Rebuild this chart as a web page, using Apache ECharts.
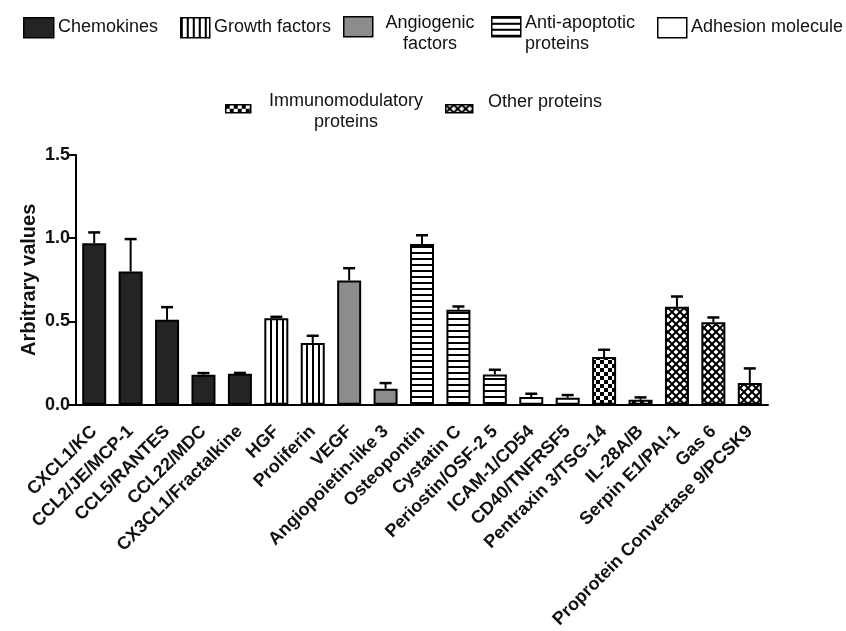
<!DOCTYPE html>
<html>
<head>
<meta charset="utf-8">
<script src="https://cdn.jsdelivr.net/npm/echarts@6/dist/echarts.min.js"></script>
<style>html,body{margin:0;padding:0;background:#fff;}#c{width:846px;height:631px;}</style>
</head>
<body>
<div id="c"></div>
<script>
const categories = ['CXCL1/KC','CCL2/JE/MCP-1','CCL5/RANTES','CCL22/MDC','CX3CL1/Fractalkine','HGF','Proliferin','VEGF','Angiopoietin-like 3','Osteopontin','Cystatin C','Periostin/OSF-2 5','ICAM-1/CD54','CD40/TNFRSF5','Pentraxin 3/TSG-14','IL-28A/B','Serpin E1/PAI-1','Gas 6','Proprotein Convertase 9/PCSK9'];
const values = [0.97,0.80,0.51,0.18,0.186,0.52,0.37,0.746,0.096,0.966,0.57,0.182,0.046,0.042,0.286,0.03,0.588,0.496,0.13];
const errors = [0.065,0.195,0.076,0.01,0.005,0.008,0.044,0.074,0.034,0.052,0.02,0.028,0.02,0.016,0.044,0.014,0.062,0.028,0.088];
const groupNames = ['Chemokines','Growth factors','Angiogenic factors','Anti-apoptotic proteins','Adhesion molecule','Immunomodulatory proteins','Other proteins'];
const legendLabels = ['Chemokines','Growth factors','Angiogenic\nfactors','Anti-apoptotic\nproteins','Adhesion molecule','Immunomodulatory\nproteins','Other proteins'];
const groupOf = [0,0,0,0,0,1,1,2,2,3,3,3,4,4,5,5,6,6,6];
const yTicks = [0,0.5,1.0,1.5];

function pat(type){
  const c = document.createElement('canvas');
  const ctx = c.getContext('2d');
  if(type==='solid'||type==='gray'||type==='white'){ return type==='solid'?'#242424':type==='gray'?'#8c8c8c':'#ffffff'; }
  if(type==='vert'){ c.width=6;c.height=6;ctx.fillStyle='#fff';ctx.fillRect(0,0,6,6);ctx.fillStyle='#000';ctx.fillRect(0,0,2,6); }
  if(type==='horiz'){ c.width=6;c.height=6;ctx.fillStyle='#fff';ctx.fillRect(0,0,6,6);ctx.fillStyle='#000';ctx.fillRect(0,0,6,2); }
  if(type==='check'){ c.width=8;c.height=8;ctx.fillStyle='#fff';ctx.fillRect(0,0,8,8);ctx.fillStyle='#000';ctx.fillRect(0,0,4,4);ctx.fillRect(4,4,4,4); }
  if(type==='cross'){ c.width=8;c.height=8;ctx.fillStyle='#fff';ctx.fillRect(0,0,8,8);ctx.strokeStyle='#000';ctx.lineWidth=2;
    ctx.beginPath();ctx.moveTo(-1,-1);ctx.lineTo(9,9);ctx.moveTo(9,-1);ctx.lineTo(-1,9);ctx.stroke(); }
  return {image:c, repeat:'repeat'};
}
const fills = [pat('solid'),pat('vert'),pat('gray'),pat('horiz'),pat('white'),pat('check'),pat('cross')];

const FONT = "'Liberation Sans', Arial, Helvetica, sans-serif";

const barSeries = groupNames.map((g,gi)=>({
  name: g,
  type: 'bar',
  barWidth: 24,
  barGap: '-100%',
  itemStyle: {color: fills[gi], borderColor:'#000', borderWidth:2},
  data: values.map((v,i)=> groupOf[i]===gi ? v : null),
  z: 2
}));

const errSeries = {
  type:'custom',
  z: 3,
  data: values.map((v,i)=>[i, v, errors[i]]),
  encode:{x:0,y:1},
  renderItem:function(params, api){
    const x = api.value(0), v = api.value(1), e = api.value(2);
    const p0 = api.coord([x, v]);
    const p1 = api.coord([x, v+e]);
    return {type:'group', children:[
      {type:'line', shape:{x1:p0[0],y1:p0[1],x2:p1[0],y2:p1[1]}, style:{stroke:'#000',lineWidth:2}},
      {type:'line', shape:{x1:p1[0]-6,y1:p1[1],x2:p1[0]+6,y2:p1[1]}, style:{stroke:'#000',lineWidth:2.5}}
    ]};
  }
};

// legend icons: [left, top, w, h]; label text: [x, y, align]
const iconBoxes = [[23,17,30,20],[180,17,29,20],[343,16,29,20],[491,16,29,20],[657,17,29,20],[225,104,25,8],[445,104,27,8]];
const labelPos = [[58,27,'left'],[214,27,'left'],[430,13,'center'],[525,13,'left'],[691,27,'left'],[346,91,'center'],[488,102,'left']];

const legends = groupNames.map((g,gi)=>({
  data:[g], left:iconBoxes[gi][0], top:iconBoxes[gi][1], itemWidth:iconBoxes[gi][2], itemHeight:iconBoxes[gi][3],
  padding:0, itemGap:0, selectedMode:false, icon:'rect',
  itemStyle:{borderColor:'#000', borderWidth:1.5},
  formatter:function(){ return ''; },
  textStyle:{fontSize:1}
}));

const graphics = legendLabels.map((t,gi)=>{
  const p = labelPos[gi];
  const multi = t.indexOf('\n')>=0;
  return {type:'text', x:p[0], y:p[1], silent:true,
    style:{text:t, fontFamily:FONT, fontSize:18, fill:'#111', align:p[2], verticalAlign: multi?'top':'middle', lineHeight:21}};
});

const option = {
  backgroundColor:'#fff',
  animation:false,
  legend: legends,
  graphic: graphics,
  grid:{left:76, right:78, top:155, bottom:226, containLabel:false},
  xAxis:{
    type:'category',
    data: categories,
    boundaryGap:true,
    axisLine:{lineStyle:{color:'#000', width:2}},
    axisTick:{alignWithLabel:true, length:7, lineStyle:{color:'#000', width:2}},
    axisLabel:{interval:0, rotate:45, fontFamily:FONT, fontWeight:'bold', fontSize:18, color:'#111', margin:24}
  },
  yAxis:{
    type:'value', min:0, max:1.5, interval:0.5,
    name:'Arbitrary values', nameLocation:'middle', nameGap:37, nameMoveOverlap:false,
    nameTextStyle:{fontFamily:FONT, fontWeight:'bold', fontSize:20, color:'#111'},
    axisLine:{show:true, lineStyle:{color:'#000', width:2}},
    axisTick:{show:true, length:7, lineStyle:{color:'#000', width:2}},
    splitLine:{show:false},
    axisLabel:{fontFamily:FONT, fontWeight:'bold', fontSize:18, color:'#111', margin:6,
      formatter:function(v){ return yTicks.indexOf(v)>=0 ? v.toFixed(1) : ''; }}
  },
  series: barSeries.concat([errSeries])
};
const chart = echarts.init(document.getElementById('c'), null, {renderer:'canvas'});
chart.setOption(option);
</script>
</body>
</html>
